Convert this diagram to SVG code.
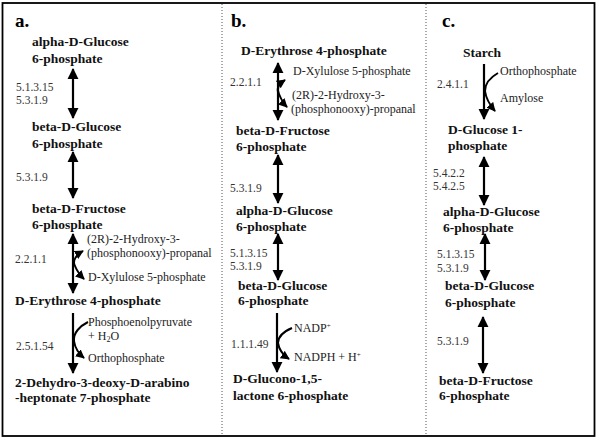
<svg xmlns="http://www.w3.org/2000/svg" width="600" height="441" viewBox="0 0 600 441">
<style>
text{font-family:'Liberation Serif','Times New Roman',Tinos,'DejaVu Serif',serif}
.c{font-size:13.5px;font-weight:bold;fill:#111}
.e{font-size:11.5px;fill:#333}
.s{font-size:12px;fill:#222}
.p{font-size:19px;font-weight:bold;fill:#000}
.ln{stroke:#000;stroke-width:2.2;fill:none}
.cv{stroke:#000;stroke-width:2;fill:none}
</style>
<defs>
<marker id="ah" viewBox="0 0 12 12" markerWidth="11" markerHeight="12" refX="11" refY="6" orient="auto-start-reverse" markerUnits="userSpaceOnUse"><path d="M0,0 L12,6 L0,12 z" fill="#000"/></marker>
<marker id="sh" viewBox="0 0 10 10" markerWidth="9" markerHeight="9" refX="9" refY="5" orient="auto-start-reverse" markerUnits="userSpaceOnUse"><path d="M0,0 L10,5 L0,10 z" fill="#000"/></marker>
</defs>
<rect x="0" y="0" width="600" height="441" fill="#fff"/>
<rect x="2.5" y="3" width="592" height="433" fill="none" stroke="#000" stroke-width="1.8"/>
<line x1="222" y1="4" x2="222" y2="436" stroke="#555" stroke-width="1" stroke-dasharray="1,2"/>
<line x1="426" y1="4" x2="426" y2="436" stroke="#555" stroke-width="1" stroke-dasharray="1,2"/>

<g id="connectors">
<line class="ln" x1="73" y1="69" x2="73" y2="118" marker-start="url(#ah)" marker-end="url(#ah)"/>
<line class="ln" x1="73" y1="152" x2="73" y2="198" marker-start="url(#ah)" marker-end="url(#ah)"/>
<line class="ln" x1="73" y1="234" x2="73" y2="293" marker-start="url(#ah)" marker-end="url(#ah)"/>
<path class="cv" d="M83,251 C76,255 72,261 75,266 C77,271 80,275 84,279" marker-start="url(#sh)" marker-end="url(#sh)"/>
<line class="ln" x1="73" y1="313" x2="73" y2="373" marker-end="url(#ah)"/>
<path class="cv" d="M88,322 C80,326 73,333 74,341 C75,348 78,353 84,358" marker-end="url(#sh)"/>
<line class="ln" x1="278" y1="63" x2="278" y2="120" marker-start="url(#ah)" marker-end="url(#ah)"/>
<path class="cv" d="M285,80 C279,84 276,89 279,94 C281,99 283,103 287,107" marker-start="url(#sh)" marker-end="url(#sh)"/>
<line class="ln" x1="278" y1="155" x2="278" y2="203" marker-start="url(#ah)" marker-end="url(#ah)"/>
<line class="ln" x1="278" y1="234" x2="278" y2="280" marker-start="url(#ah)" marker-end="url(#ah)"/>
<line class="ln" x1="277" y1="313" x2="277" y2="372" marker-end="url(#ah)"/>
<path class="cv" d="M292,328 C285,331 278,336 278,343 C279,350 283,355 289,359" marker-end="url(#sh)"/>
<line class="ln" x1="484" y1="64" x2="484" y2="119" marker-end="url(#ah)"/>
<path class="cv" d="M498,73 C491,77 485,83 485,91 C486,99 489,104 495,111" marker-end="url(#sh)"/>
<line class="ln" x1="484" y1="157" x2="484" y2="205" marker-start="url(#ah)" marker-end="url(#ah)"/>
<line class="ln" x1="485" y1="234" x2="485" y2="280" marker-start="url(#ah)" marker-end="url(#ah)"/>
<line class="ln" x1="483" y1="317" x2="483" y2="373" marker-start="url(#ah)" marker-end="url(#ah)"/>
</g>

<g id="panel-a">
<text class="p" x="15" y="27">a.</text>
<g id="a-alpha-g6p"><text class="c" x="32" y="46">alpha-D-Glucose</text><text class="c" x="32" y="63">6-phosphate</text></g>
<text class="e" x="16" y="91">5.1.3.15</text><text class="e" x="16" y="104">5.3.1.9</text>
<g id="a-beta-g6p"><text class="c" x="32" y="131">beta-D-Glucose</text><text class="c" x="32" y="148">6-phosphate</text></g>
<text class="e" x="16" y="181">5.3.1.9</text>
<g id="a-beta-f6p"><text class="c" x="32" y="213">beta-D-Fructose</text><text class="c" x="32" y="229">6-phosphate</text></g>
<text class="e" x="15" y="263">2.2.1.1</text>
<text class="s" x="87" y="243">(2R)-2-Hydroxy-3-</text><text class="s" x="87" y="257">(phosphonooxy)-propanal</text>
<text class="s" x="88" y="281">D-Xylulose 5-phosphate</text>
<g id="a-e4p"><text class="c" x="15" y="305">D-Erythrose 4-phosphate</text></g>
<text class="s" x="88" y="326">Phosphoenolpyruvate</text>
<text class="s" x="88" y="340">+ H<tspan font-size="8" dy="2">2</tspan><tspan dy="-2">O</tspan></text>
<text class="e" x="16" y="350">2.5.1.54</text>
<text class="s" x="88" y="362">Orthophosphate</text>
<g id="a-dahp"><text class="c" x="15" y="387">2-Dehydro-3-deoxy-D-arabino</text><text class="c" x="15" y="402">-heptonate 7-phosphate</text></g>
</g>

<g id="panel-b">
<text class="p" x="231" y="27">b.</text>
<g id="b-e4p"><text class="c" x="241" y="55">D-Erythrose 4-phosphate</text></g>
<text class="e" x="230" y="86">2.2.1.1</text>
<text class="s" x="293" y="75">D-Xylulose 5-phosphate</text>
<text class="s" x="292" y="99">(2R)-2-Hydroxy-3-</text><text class="s" x="291" y="113">(phosphonooxy)-propanal</text>
<g id="b-beta-f6p"><text class="c" x="236" y="135">beta-D-Fructose</text><text class="c" x="236" y="151">6-phosphate</text></g>
<text class="e" x="230" y="192">5.3.1.9</text>
<g id="b-alpha-g6p"><text class="c" x="236" y="215">alpha-D-Glucose</text><text class="c" x="236" y="231">6-phosphate</text></g>
<text class="e" x="230" y="257">5.1.3.15</text><text class="e" x="230" y="270">5.3.1.9</text>
<g id="b-beta-g6p"><text class="c" x="238" y="290">beta-D-Glucose</text><text class="c" x="238" y="305">6-phosphate</text></g>
<text class="s" x="294" y="332">NADP<tspan font-size="7" dy="-4">+</tspan></text>
<text class="e" x="231" y="348">1.1.1.49</text>
<text class="s" x="294" y="361">NADPH + H<tspan font-size="7" dy="-4">+</tspan></text>
<g id="b-gl6p"><text class="c" x="233" y="383">D-Glucono-1,5-</text><text class="c" x="233" y="400">lactone 6-phosphate</text></g>
</g>

<g id="panel-c">
<text class="p" x="442" y="27">c.</text>
<g id="c-starch"><text class="c" x="463" y="57">Starch</text></g>
<text class="s" x="500" y="75">Orthophosphate</text>
<text class="e" x="437" y="88">2.4.1.1</text>
<text class="s" x="500" y="102">Amylose</text>
<g id="c-g1p"><text class="c" x="448" y="134">D-Glucose 1-</text><text class="c" x="448" y="150">phosphate</text></g>
<text class="e" x="433" y="177">5.4.2.2</text><text class="e" x="433" y="190">5.4.2.5</text>
<g id="c-alpha-g6p"><text class="c" x="443" y="216">alpha-D-Glucose</text><text class="c" x="443" y="232">6-phosphate</text></g>
<text class="e" x="437" y="258">5.1.3.15</text><text class="e" x="437" y="272">5.3.1.9</text>
<g id="c-beta-g6p"><text class="c" x="445" y="290">beta-D-Glucose</text><text class="c" x="445" y="307">6-phosphate</text></g>
<text class="e" x="437" y="345">5.3.1.9</text>
<g id="c-beta-f6p"><text class="c" x="439" y="385">beta-D-Fructose</text><text class="c" x="439" y="400">6-phosphate</text></g>
</g>
</svg>
